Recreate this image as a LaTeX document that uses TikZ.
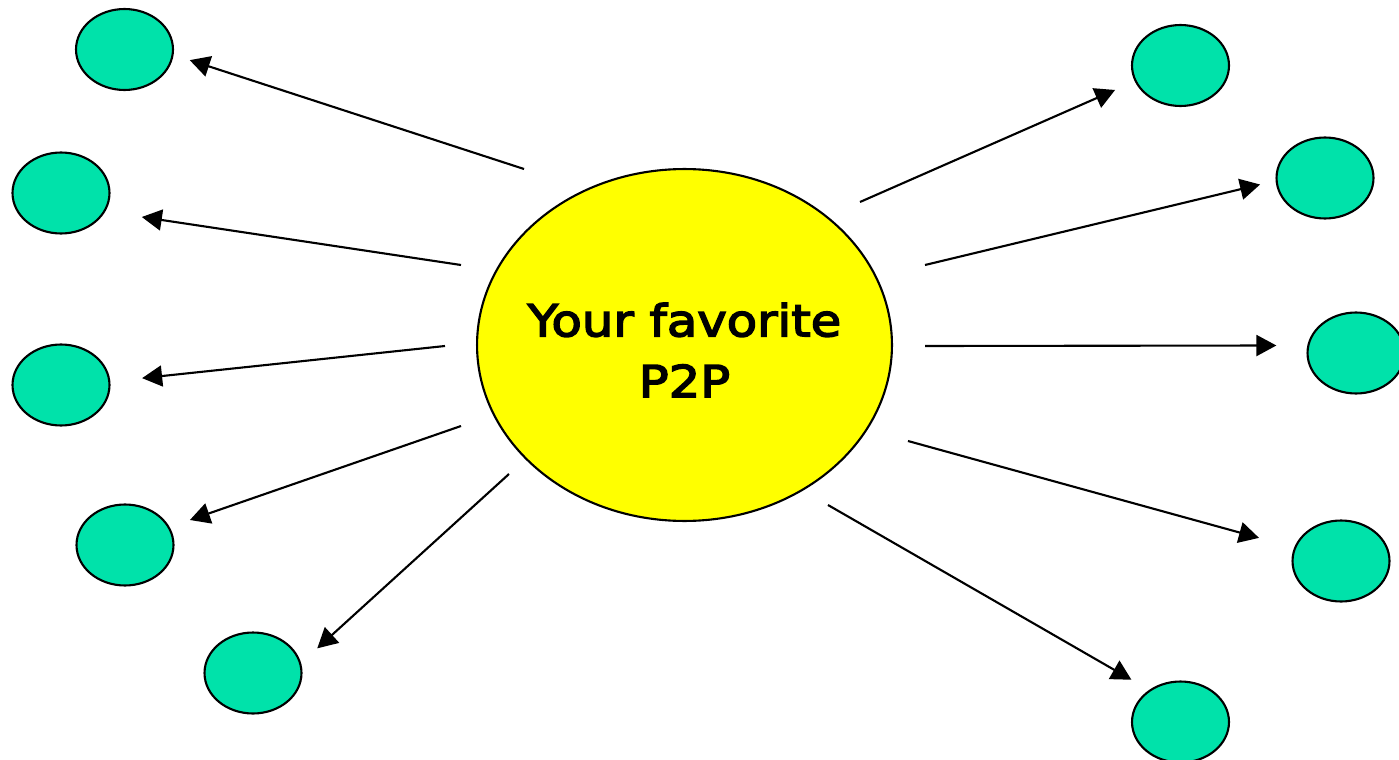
\documentclass[tikz,border=0pt]{standalone}
\usepackage{fontspec}
\usepackage{tikz}
\usetikzlibrary{positioning,arrows.meta,shapes.geometric}
\newfontfamily\hubfont[FakeStretch=1.13,FakeBold=3.5]{DejaVu Sans}
\definecolor{peergreen}{RGB}{0,226,170}
\definecolor{hubyellow}{RGB}{255,255,0}

\begin{document}
\begin{tikzpicture}[x=0.02cm, y=-0.02cm,
  peer/.style={ellipse, draw=black, line width=1.2pt, fill=peergreen,
    minimum width=1.94cm, minimum height=1.62cm, inner sep=0pt, outer sep=0pt},
  hub/.style={ellipse, draw=black, line width=1.2pt, fill=hubyellow,
    minimum width=8.3cm, minimum height=7.04cm, inner sep=0pt, outer sep=0pt},
  link/.style={-{Triangle[length=0.4cm, width=0.42cm]}, line width=1.2pt}]
  \useasboundingbox (0,0) rectangle (1399,760);

  \node[hub] (p2p) at (684.5,345) {};
  \node[font=\hubfont\fontsize{25pt}{34.6pt}\selectfont, align=center]
    (p2plabel) at (684.5,350) {Your favorite\\P2P};

  \node[peer] (l1) at (124.5,49.5) {};
  \node[peer] (l2) at (61,193)     {};
  \node[peer] (l3) at (61,385)     {};
  \node[peer] (l4) at (125,545)    {};
  \node[peer] (l5) at (253,673)    {};
  \node[peer] (r1) at (1180.5,65.5) {};
  \node[peer] (r2) at (1325,178)   {};
  \node[peer] (r3) at (1356,353)   {};
  \node[peer] (r4) at (1341,561)   {};
  \node[peer] (r5) at (1180.5,722) {};

  \coordinate (sl1) at (524,169);
  \coordinate (sl2) at (461,265);
  \coordinate (sl3) at (445,346);
  \coordinate (sl4) at (461,426);
  \coordinate (sl5) at (509,474);
  \coordinate (sr1) at (860,202);
  \coordinate (sr2) at (925,265);
  \coordinate (sr3) at (925,346);
  \coordinate (sr4) at (908,441);
  \coordinate (sr5) at (828,505);

  \draw[link, shorten >=0.36cm] (sl1) -- (l1.354);
  \draw[link, shorten >=0.76cm] (sl2) -- (l2.337);
  \draw[link, shorten >=0.66cm] (sl3) -- (l3.4);
  \draw[link, shorten >=0.45cm] (sl4) -- (l4.22);
  \draw[link, shorten >=0.46cm] (sl5) -- (l5.11.5);
  \draw[link, shorten >=0.45cm] (sr1) -- (r1.199);
  \draw[link, shorten >=0.34cm] (sr2) -- (r2.183.6);
  \draw[link, shorten >=0.64cm] (sr3) -- (r3.171.7);
  \draw[link, shorten >=0.75cm] (sr4) -- (r4.164.2);
  \draw[link, shorten >=0.43cm] (sr5) -- (r5.134.7);
\end{tikzpicture}
\end{document}
